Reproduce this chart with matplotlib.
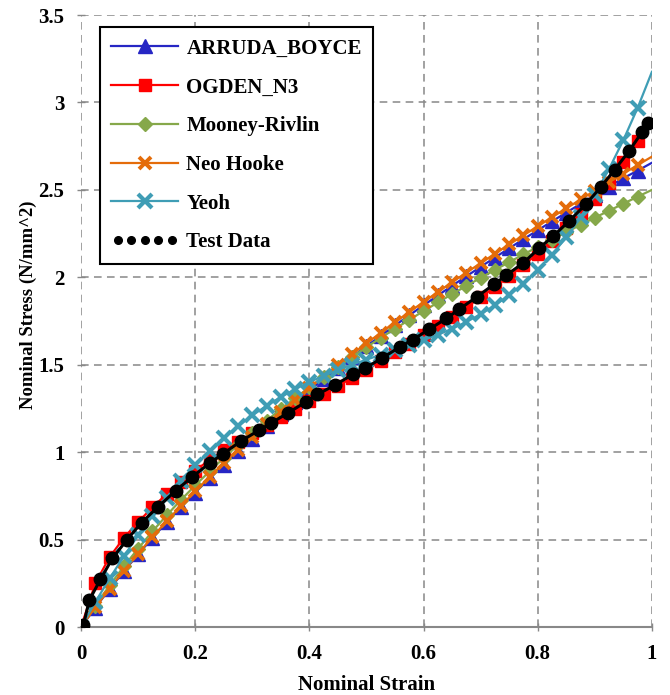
import matplotlib
matplotlib.use("Agg")
import matplotlib.pyplot as plt
from matplotlib.lines import Line2D
from matplotlib.legend_handler import HandlerLine2D

# ---- data ----
model_strain = [0.0, 0.025, 0.05, 0.075, 0.1, 0.125, 0.15, 0.175, 0.2, 0.225,
                0.25, 0.275, 0.3, 0.325, 0.35, 0.375, 0.4, 0.425, 0.45, 0.475,
                0.5, 0.525, 0.55, 0.575, 0.6, 0.625, 0.65, 0.675, 0.7, 0.725,
                0.75, 0.775, 0.8, 0.825, 0.85, 0.875, 0.9, 0.925, 0.95, 0.975, 1.0]

arruda_boyce = [0.0, 0.111, 0.218, 0.319, 0.416, 0.510, 0.599, 0.686, 0.769, 0.850,
                0.928, 1.004, 1.078, 1.150, 1.219, 1.287, 1.354, 1.419, 1.483, 1.545,
                1.606, 1.666, 1.725, 1.783, 1.840, 1.896, 1.952, 2.006, 2.060, 2.113,
                2.166, 2.218, 2.269, 2.320, 2.370, 2.420, 2.470, 2.519, 2.567, 2.610, 2.655]

ogden_n3 = [0.0, 0.25, 0.40, 0.51, 0.60, 0.685, 0.76, 0.83, 0.895, 0.955,
            1.01, 1.06, 1.11, 1.155, 1.20, 1.245, 1.29, 1.335, 1.38, 1.425,
            1.47, 1.52, 1.57, 1.62, 1.67, 1.72, 1.775, 1.83, 1.885, 1.945,
            2.005, 2.07, 2.135, 2.205, 2.28, 2.36, 2.445, 2.54, 2.66, 2.78, 2.89]

mooney_rivlin = [0.0, 0.123, 0.238, 0.347, 0.449, 0.547, 0.639, 0.727, 0.810, 0.890,
                 0.967, 1.041, 1.112, 1.180, 1.246, 1.309, 1.371, 1.431, 1.489, 1.545,
                 1.600, 1.654, 1.706, 1.757, 1.807, 1.856, 1.904, 1.951, 1.997, 2.042,
                 2.087, 2.131, 2.174, 2.216, 2.258, 2.300, 2.341, 2.381, 2.421, 2.461, 2.500]

neo_hooke = [0.0, 0.113, 0.220, 0.322, 0.420, 0.515, 0.605, 0.693, 0.777, 0.859,
             0.938, 1.014, 1.089, 1.161, 1.232, 1.300, 1.368, 1.433, 1.498, 1.561,
             1.622, 1.683, 1.743, 1.801, 1.859, 1.916, 1.972, 2.027, 2.081, 2.135,
             2.188, 2.240, 2.292, 2.344, 2.394, 2.445, 2.495, 2.544, 2.593, 2.642, 2.690]

yeoh = [0.0, 0.143, 0.278, 0.405, 0.525, 0.636, 0.740, 0.837, 0.925, 1.007,
        1.081, 1.149, 1.210, 1.266, 1.315, 1.360, 1.401, 1.437, 1.470, 1.501,
        1.529, 1.557, 1.584, 1.612, 1.641, 1.672, 1.706, 1.745, 1.789, 1.840,
        1.898, 1.964, 2.041, 2.129, 2.229, 2.344, 2.473, 2.620, 2.785, 2.969, 3.175]

test_strain = [0.004, 0.0145, 0.034, 0.055, 0.080, 0.106, 0.135, 0.166, 0.194, 0.226,
               0.248, 0.280, 0.312, 0.332, 0.363, 0.394, 0.414, 0.445, 0.477, 0.497,
               0.527, 0.558, 0.581, 0.610, 0.640, 0.662, 0.693, 0.724, 0.745, 0.775,
               0.803, 0.827, 0.855, 0.884, 0.910, 0.935, 0.960, 0.983, 0.994]
test_stress = [0.010, 0.154, 0.273, 0.393, 0.498, 0.597, 0.688, 0.780, 0.857, 0.939,
               0.989, 1.063, 1.126, 1.165, 1.225, 1.288, 1.330, 1.384, 1.447, 1.480,
               1.537, 1.601, 1.643, 1.703, 1.765, 1.816, 1.888, 1.961, 2.012, 2.083,
               2.168, 2.235, 2.322, 2.417, 2.514, 2.616, 2.722, 2.832, 2.882]

x_ticks = [0, 0.2, 0.4, 0.6, 0.8, 1.0]
x_tick_labels = ["0", "0.2", "0.4", "0.6", "0.8", "1"]
y_ticks = [0, 0.5, 1.0, 1.5, 2.0, 2.5, 3.0, 3.5]
y_tick_labels = ["0", "0.5", "1", "1.5", "2", "2.5", "3", "3.5"]

# ---- style ----
plt.rcParams['font.family'] = ['Liberation Serif', 'DejaVu Serif']
plt.rcParams['font.weight'] = 'bold'
plt.rcParams['axes.labelweight'] = 'bold'

FS = 15

fig = plt.figure(figsize=(6.70, 6.95), dpi=100)
ax = fig.add_axes([0.121, 0.0978, 0.852, 0.8806])

c_blue = '#2626c4'
c_red = '#ff0000'
c_green = '#86a84a'
c_orange = '#e46c0a'
c_teal = '#3f9db5'

n_mark = len(model_strain) - 1
every = list(range(n_mark))

ax.plot(model_strain, arruda_boyce, color=c_blue, lw=1.6, marker='^', ms=10,
        markevery=every, label='ARRUDA_BOYCE', zorder=3)
ax.plot(model_strain, ogden_n3, color=c_red, lw=1.6, marker='s', ms=8.5,
        markevery=every, label='OGDEN_N3', zorder=4)
ax.plot(model_strain, mooney_rivlin, color=c_green, lw=1.6, marker='D', ms=7.5,
        markevery=every, label='Mooney-Rivlin', zorder=5)
ax.plot(model_strain, neo_hooke, color=c_orange, lw=1.6, marker='x', ms=8.5, mew=2.8,
        markevery=every, label='Neo Hooke', zorder=6)
ax.plot(model_strain, yeoh, color=c_teal, lw=1.6, marker='x', ms=9.5, mew=3.0,
        markevery=every, label='Yeoh', zorder=7)
ax.plot(test_strain, test_stress, color='black', lw=2.2, marker='o', ms=9,
        label='Test Data', zorder=8)

ax.set_xlim(0, 1)
ax.set_ylim(0, 3.5)
ax.set_xticks(x_ticks)
ax.set_xticklabels(x_tick_labels)
ax.set_yticks(y_ticks)
ax.set_yticklabels(y_tick_labels)

ax.grid(True, color='#888888', linestyle=(0, (5, 3.5)), lw=1.1, zorder=0)
ax.set_axisbelow(True)
for s in ['top', 'right', 'left']:
    ax.spines[s].set_visible(False)
ax.spines['bottom'].set_color('#888888')
ax.spines['bottom'].set_linewidth(1.5)
ax.tick_params(axis='both', which='major', labelsize=FS, direction='inout',
               length=6, width=1.0, color='#888888', pad=9)
for lab in ax.get_xticklabels() + ax.get_yticklabels():
    lab.set_fontweight('bold')

ax.set_xlabel('Nominal Strain', fontsize=FS, fontweight='bold', labelpad=8)
ax.set_ylabel('Nominal Stress (N/mm^2)', fontsize=13.5, fontweight='bold')
ax.yaxis.set_label_coords(-0.078, 0.526)

handles, labels = ax.get_legend_handles_labels()
dots = Line2D([], [], color='black', marker='o', ms=5.5, linestyle='None')
handles[-1] = dots
leg = ax.legend(handles, labels, loc='upper left', bbox_to_anchor=(0.033, 0.98),
                borderaxespad=0, fancybox=False, edgecolor='black', framealpha=1,
                prop={'family': ['Liberation Serif'], 'weight': 'bold', 'size': FS},
                handlelength=3.2, handletextpad=0.4, labelspacing=0.9,
                borderpad=0.55, numpoints=1,
                handler_map={dots: HandlerLine2D(numpoints=5)})
leg.get_frame().set_linewidth(1.5)
leg.set_zorder(20)

fig.savefig('out.png', dpi=100)
